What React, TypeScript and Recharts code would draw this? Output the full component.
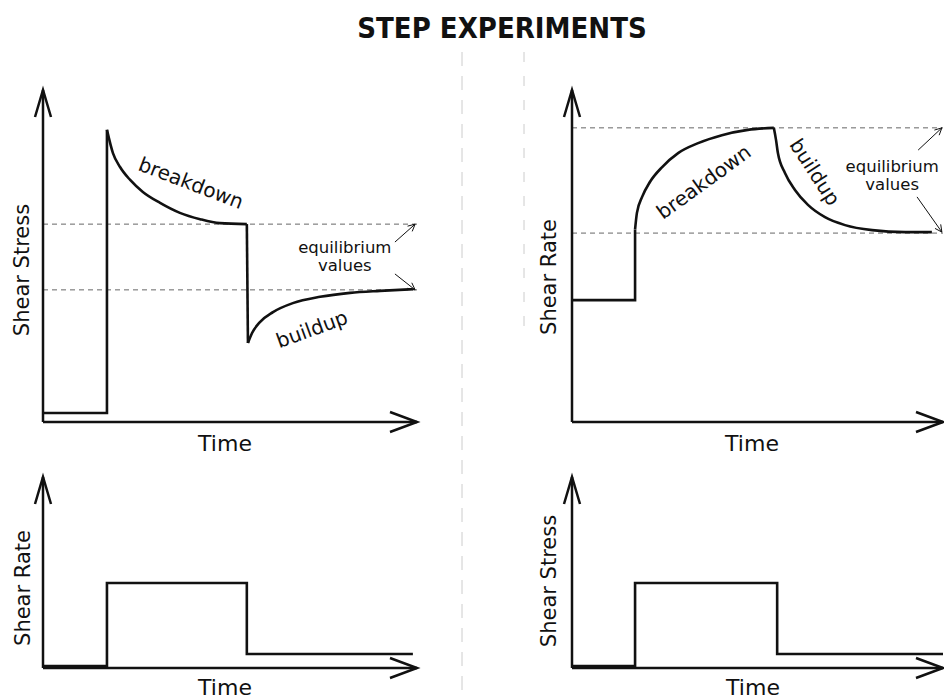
import React from "react";
import { Line, LineChart, ReferenceDot, ReferenceLine, XAxis, YAxis } from "recharts";

type Pt = { t: number; v: number };

// top left: shear stress after a step up and a step down in shear rate
const stressBase: Pt[] = [
  { t: 0, v: 2.7 },
  { t: 17.1, v: 2.7 },
  { t: 17.1, v: 88 },
];
const stressBreakdown: Pt[] = [
  { t: 17.1, v: 88 },
  { t: 18.7, v: 81.0 },
  { t: 20.6, v: 76.8 },
  { t: 23.3, v: 72.9 },
  { t: 26.7, v: 69.3 },
  { t: 31.3, v: 66.0 },
  { t: 36.6, v: 63.0 },
  { t: 42.0, v: 61.1 },
  { t: 47.3, v: 59.9 },
  { t: 54.5, v: 59.6 },
];
const stressDrop: Pt[] = [
  { t: 54.5, v: 59.6 },
  { t: 54.8, v: 23.8 },
];
const stressBuildup: Pt[] = [
  { t: 54.8, v: 23.8 },
  { t: 55.9, v: 26.8 },
  { t: 58.0, v: 30.1 },
  { t: 61.5, v: 33.1 },
  { t: 66.8, v: 35.8 },
  { t: 74.1, v: 37.7 },
  { t: 82.1, v: 38.9 },
  { t: 90.1, v: 39.5 },
  { t: 98.9, v: 40.0 },
];
const stressEquilibrium = [59.6, 39.8];

// top right: shear rate after a step up and a step down in shear stress
const rateBase: Pt[] = [
  { t: 0, v: 36.7 },
  { t: 17.0, v: 36.7 },
  { t: 17.0, v: 58 },
];
const rateBreakdown: Pt[] = [
  { t: 17.0, v: 58 },
  { t: 17.5, v: 63.0 },
  { t: 18.9, v: 67.8 },
  { t: 21.0, v: 72.3 },
  { t: 24.3, v: 76.8 },
  { t: 28.6, v: 81.0 },
  { t: 34.0, v: 84.0 },
  { t: 40.4, v: 86.4 },
  { t: 47.4, v: 88.0 },
  { t: 54.4, v: 88.6 },
];
const rateBuildup: Pt[] = [
  { t: 54.4, v: 88.6 },
  { t: 55.0, v: 84.9 },
  { t: 55.5, v: 81.0 },
  { t: 57.4, v: 75.0 },
  { t: 60.1, v: 69.9 },
  { t: 63.6, v: 65.4 },
  { t: 68.2, v: 61.7 },
  { t: 73.6, v: 59.3 },
  { t: 80.9, v: 57.8 },
  { t: 89.8, v: 57.2 },
  { t: 97.0, v: 57.2 },
];
const rateEquilibrium = [88.6, 56.9];

// bottom: the applied steps
const rateStep: Pt[] = [
  { t: 0, v: 1 },
  { t: 17.1, v: 1 },
  { t: 17.1, v: 44.5 },
  { t: 54.5, v: 44.5 },
  { t: 54.5, v: 7.3 },
  { t: 98.9, v: 7.3 },
];
const stressStep: Pt[] = [
  { t: 0, v: 1 },
  { t: 17.0, v: 1 },
  { t: 17.0, v: 44.5 },
  { t: 55.3, v: 44.5 },
  { t: 55.3, v: 7.3 },
  { t: 100, v: 7.3 },
];

const INK = "#111";
const FONT = "'DejaVu Sans', sans-serif";

const arrow =
  (len: number, half: number, width: number) =>
  (p: any) => {
    const { x1, y1, x2, y2 } = p;
    const a = Math.atan2(y2 - y1, x2 - x1);
    const bx = x2 - len * Math.cos(a);
    const by = y2 - len * Math.sin(a);
    const nx = -Math.sin(a) * half;
    const ny = Math.cos(a) * half;
    return (
      <g>
        <line x1={x1} y1={y1} x2={x2} y2={y2} stroke={INK} strokeWidth={width} />
        <polyline
          points={`${bx + nx},${by + ny} ${x2},${y2} ${bx - nx},${by - ny}`}
          fill="none"
          stroke={INK}
          strokeWidth={width}
        />
      </g>
    );
  };

const note =
  (text: string, angle: number, size: number) =>
  (p: any) => (
    <text
      x={p.cx}
      y={p.cy}
      textAnchor="middle"
      dominantBaseline="central"
      fontFamily={FONT}
      fontSize={size}
      fill={INK}
      transform={`rotate(${angle} ${p.cx} ${p.cy})`}
    >
      {text}
    </text>
  );

type Curve = { data: Pt[]; smooth?: boolean };
type Note = { t: number; v: number; text: string; angle: number; size: number };
type Pointer = { from: [number, number]; to: [number, number] };

type PanelProps = {
  left: number;
  top: number;
  width: number;
  height: number;
  yWidth: number;
  xHeight: number;
  marginTop: number;
  marginRight: number;
  yLabel: string;
  yShift: [number, number];
  xShift: [number, number];
  curves: Curve[];
  equilibrium?: number[];
  notes?: Note[];
  pointers?: Pointer[];
};

function Panel(props: PanelProps) {
  const { curves, equilibrium = [], notes = [], pointers = [] } = props;
  return (
    <div style={{ position: "absolute", left: props.left, top: props.top }}>
      <LineChart
        width={props.width}
        height={props.height}
        margin={{ top: props.marginTop, right: props.marginRight, bottom: 0, left: 0 }}
      >
        <XAxis
          type="number"
          dataKey="t"
          domain={[0, 100]}
          allowDataOverflow
          height={props.xHeight}
          tick={false}
          tickLine={false}
          axisLine={false}
          label={{
            value: "Time",
            position: "center",
            dx: props.xShift[0],
            dy: props.xShift[1],
            fontFamily: FONT,
            fontSize: 22,
            fill: INK,
          }}
        />
        <YAxis
          type="number"
          domain={[0, 100]}
          allowDataOverflow
          width={props.yWidth}
          tick={false}
          tickLine={false}
          axisLine={false}
          label={{
            value: props.yLabel,
            angle: -90,
            position: "center",
            dx: props.yShift[0],
            dy: props.yShift[1],
            fontFamily: FONT,
            fontSize: 21,
            fill: INK,
          }}
        />
        {equilibrium.map((v) => (
          <ReferenceLine key={v} y={v} stroke="#666" strokeWidth={1} strokeDasharray="5 4" />
        ))}
        <ReferenceLine
          segment={[{ x: 0, y: 0 }, { x: 0, y: 100 }]}
          ifOverflow="visible"
          shape={arrow(27, 8, 2.5)}
        />
        <ReferenceLine
          segment={[{ x: 0, y: 0 }, { x: 100, y: 0 }]}
          ifOverflow="visible"
          shape={arrow(27, 10, 2.5)}
        />
        {curves.map((c, i) => (
          <Line
            key={i}
            data={c.data}
            dataKey="v"
            type={c.smooth ? "monotone" : "linear"}
            stroke={INK}
            strokeWidth={2.6}
            dot={false}
            activeDot={false}
            isAnimationActive={false}
          />
        ))}
        {pointers.map((p, i) => (
          <ReferenceLine
            key={i}
            segment={[
              { x: p.from[0], y: p.from[1] },
              { x: p.to[0], y: p.to[1] },
            ]}
            ifOverflow="visible"
            shape={arrow(7, 3.5, 1)}
          />
        ))}
        {notes.map((n) => (
          <ReferenceDot
            key={n.text}
            x={n.t}
            y={n.v}
            r={0}
            ifOverflow="visible"
            shape={note(n.text, n.angle, n.size)}
          />
        ))}
      </LineChart>
    </div>
  );
}

export default function App() {
  return (
    <div
      style={{
        position: "absolute",
        left: 0,
        top: 0,
        width: 944,
        height: 700,
        background: "#fff",
        overflow: "hidden",
      }}
    >
      <svg width={944} height={700} style={{ position: "absolute", left: 0, top: 0 }}>
        <text
          x={502}
          y={38}
          textAnchor="middle"
          fontFamily="'DejaVu Sans Condensed', 'DejaVu Sans', sans-serif"
          fontWeight="bold"
          fontSize={29}
          fill={INK}
        >
          STEP EXPERIMENTS
        </text>
        <line x1={462} y1={52} x2={462} y2={700} stroke="#ccc" strokeWidth={1} strokeDasharray="14 10" />
        <line x1={524} y1={52} x2={524} y2={330} stroke="#ccc" strokeWidth={1} strokeDasharray="10 14" />
      </svg>
      <Panel
        left={0}
        top={70}
        width={460}
        height={390}
        yWidth={43}
        xHeight={38}
        marginTop={20}
        marginRight={43}
        yLabel="Shear Stress"
        yShift={[0, 14]}
        xShift={[-5, 2]}
        curves={[
          { data: stressBase },
          { data: stressBreakdown, smooth: true },
          { data: stressDrop },
          { data: stressBuildup, smooth: true },
        ]}
        equilibrium={stressEquilibrium}
        pointers={[
          { from: [94.1, 54.2], to: [99.5, 59.6] },
          { from: [94.1, 44.6], to: [99.5, 39.8] },
        ]}
        notes={[
          { t: 39.6, v: 72.0, text: "breakdown", angle: 21, size: 20 },
          { t: 71.9, v: 28.0, text: "buildup", angle: -20, size: 20 },
          { t: 80.7, v: 52.7, text: "equilibrium", angle: 0, size: 16.5 },
          { t: 80.7, v: 47.0, text: "values", angle: 0, size: 16.5 },
        ]}
      />
      <Panel
        left={520}
        top={70}
        width={424}
        height={390}
        yWidth={52}
        xHeight={38}
        marginTop={20}
        marginRight={1}
        yLabel="Shear Rate"
        yShift={[3, 21]}
        xShift={[-5.5, 2]}
        curves={[
          { data: rateBase },
          { data: rateBreakdown, smooth: true },
          { data: rateBuildup, smooth: true },
        ]}
        equilibrium={rateEquilibrium}
        pointers={[
          { from: [93.3, 81.9], to: [99.7, 88.6] },
          { from: [93.0, 67.8], to: [99.7, 57.2] },
        ]}
        notes={[
          { t: 35.5, v: 72.3, text: "breakdown", angle: -36, size: 20 },
          { t: 65.5, v: 75.3, text: "buildup", angle: 57, size: 20 },
          { t: 86.3, v: 77.1, text: "equilibrium", angle: 0, size: 16.5 },
          { t: 86.3, v: 71.4, text: "values", angle: 0, size: 16.5 },
        ]}
      />
      <Panel
        left={0}
        top={460}
        width={460}
        height={240}
        yWidth={43}
        xHeight={32}
        marginTop={17}
        marginRight={43}
        yLabel="Shear Rate"
        yShift={[1, 15.5]}
        xShift={[-5, 3]}
        curves={[{ data: rateStep }]}
      />
      <Panel
        left={520}
        top={460}
        width={424}
        height={240}
        yWidth={52}
        xHeight={32}
        marginTop={17}
        marginRight={1}
        yLabel="Shear Stress"
        yShift={[3, 8.5]}
        xShift={[-4.5, 3]}
        curves={[{ data: stressStep }]}
      />
    </div>
  );
}
